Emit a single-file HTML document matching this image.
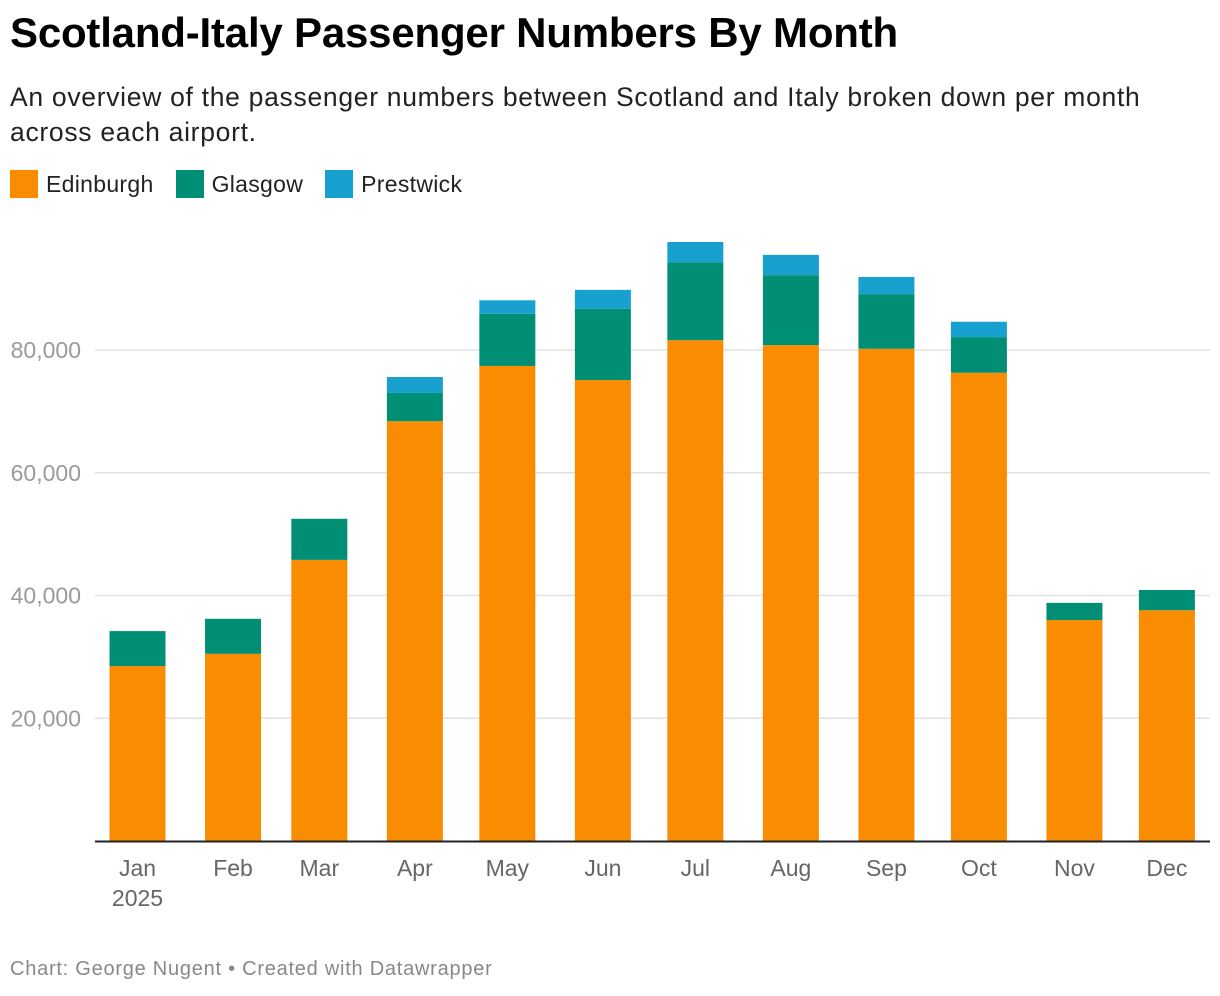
<!DOCTYPE html>
<html><head><meta charset="utf-8"><style>
body{margin:0;width:1220px;height:996px;background:#fff;font-family:"Liberation Sans",Arial,sans-serif;position:relative;overflow:hidden}
h1{position:absolute;left:10px;top:9px;margin:0;font-size:42px;font-weight:bold;color:#000;letter-spacing:-0.2px}
.sub{position:absolute;left:10px;top:80px;font-size:26.5px;color:#222;line-height:35px;width:1210px;letter-spacing:0.7px}
.legend{position:absolute;left:10px;top:170px;font-size:23px;color:#222;display:flex;gap:22px;letter-spacing:0.3px}
.legend span{display:flex;align-items:center}
.legend i{display:inline-block;width:28px;height:28px;margin-right:8px}
.foot{position:absolute;left:10px;top:958px;font-size:20px;color:#888;letter-spacing:0.75px}
</style></head><body>
<h1>Scotland-Italy Passenger Numbers By Month</h1>
<div class="sub">An overview of the passenger numbers between Scotland and Italy broken down per month<br>across each airport.</div>
<div class="legend">
<span><i style="background:#f98c00"></i>Edinburgh</span>
<span><i style="background:#008f74"></i>Glasgow</span>
<span><i style="background:#18a0cf"></i>Prestwick</span>
</div>
<svg id="chart" width="1220" height="996" style="position:absolute;left:0;top:0"></svg>
<div class="foot">Chart: George Nugent • Created with Datawrapper</div>
<script>
const months=["Jan","Feb","Mar","Apr","May","Jun","Jul","Aug","Sep","Oct","Nov","Dec"];
const monthStartDay=[0,31,59,90,120,151,181,212,243,273,304,334];
const edinburgh=[28500,30500,45800,68400,77400,75100,81600,80800,80200,76300,36000,37600];
const glasgow=[5700,5700,6700,4600,8500,11600,12700,11400,8900,5800,2800,3300];
const prestwick=[0,0,0,2600,2200,3100,3300,3300,2800,2500,0,0];
const yTicks=[20000,40000,60000,80000];
const NS="http://www.w3.org/2000/svg";
const svg=document.getElementById('chart');
const y=v=>841-v*491/80000;
const x=d=>137.5+d*3.082;
function mk(t,a){const e=document.createElementNS(NS,t);for(const k in a)e.setAttribute(k,a[k]);svg.appendChild(e);return e;}
yTicks.forEach(v=>{
 const g=mk('line',{x1:95,x2:1210,y1:y(v),y2:y(v),stroke:'#e2e2e2','stroke-width':1.5});
 
 
 const t=mk('text',{x:81,y:y(v)+8,'text-anchor':'end','font-size':23,fill:'#9a9a9a','font-family':'Liberation Sans, sans-serif'});
 t.textContent=v.toLocaleString('en-US');
 
 
});
const series=[[edinburgh,'#f98c00','edinburgh'],[glasgow,'#008f74','glasgow'],[prestwick,'#18a0cf','prestwick']];
months.forEach((m,i)=>{
 let base=0;const cx=x(monthStartDay[i]);
 series.forEach(([arr,col,nm])=>{
  const v=arr[i];if(v<=0)return;
  const r=mk('rect',{x:cx-28,width:56,y:y(base+v),height:y(base)-y(base+v),fill:col});
  
  
  base+=v;
 });
 const t=mk('text',{x:cx,y:876,'text-anchor':'middle','font-size':23,fill:'#666','font-family':'Liberation Sans, sans-serif'});
 t.textContent=m;
 
 
 if(i===0){const t2=mk('text',{x:cx,y:906,'text-anchor':'middle','font-size':23,fill:'#666','font-family':'Liberation Sans, sans-serif'});t2.textContent='2025';
 
 }
});
const ax=mk('line',{x1:95,x2:1210,y1:841.5,y2:841.5,stroke:'#222','stroke-width':2});


</script>
</body></html>
